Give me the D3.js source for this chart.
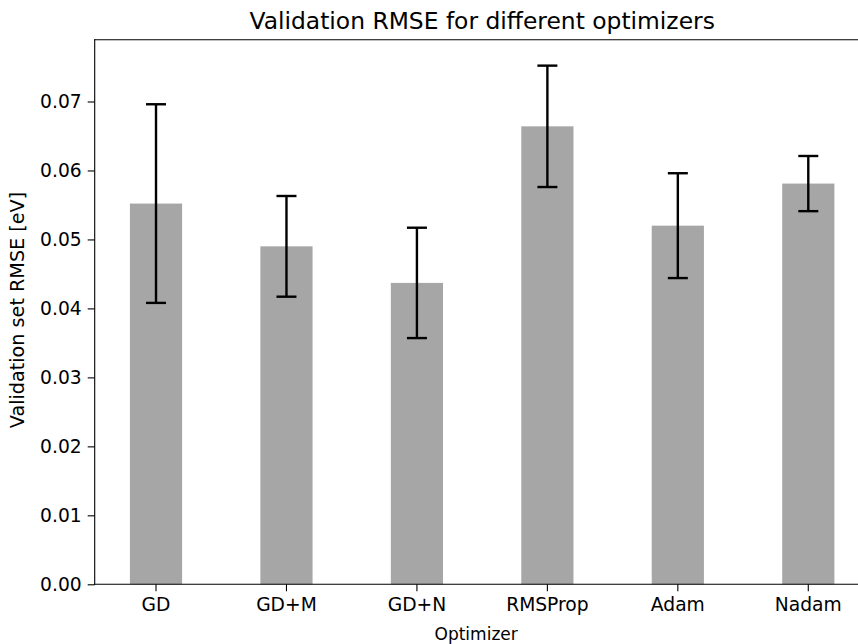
<html>
<head>
  <title>Validation RMSE</title>
  <style>
  body {
    margin: 0;
    background: #fff;
  }
  svg text {
    font-family: "DejaVu Sans", sans-serif;
    fill: #000;
  }
  .axis path,
  .axis line {
    stroke: #000;
    stroke-width: 1.1;
  }
  </style>
</head>
<body>
  <div id="chart"></div>

  <script src="https://d3js.org/d3.v7.min.js"></script>
  <script>
  // optimizers and their validation RMSE (mean, std over runs)
  var optimizers = ["GD", "GD+M", "GD+N", "RMSProp", "Adam", "Nadam"];
  var rmse = [0.0552, 0.0490, 0.0437, 0.0664, 0.0520, 0.0581];
  var rmseStd = [0.0144, 0.0073, 0.0080, 0.0088, 0.0076, 0.0040];
  var yTicks = [0.00, 0.01, 0.02, 0.03, 0.04, 0.05, 0.06, 0.07];

  var W = 858, H = 644;
  var margin = {left: 94.7, right: 869.6, top: 39.7, bottom: 584.3};

  var svg = d3.select("#chart").append("svg")
    .attr("width", W)
    .attr("height", H);

  var x = d3.scaleBand()
    .domain(optimizers)
    .range([margin.left, margin.right])
    .paddingInner(0.6)
    .paddingOuter(0.27);

  // headroom above the tallest error bar
  var yMax = d3.max(rmse.map(function(d, i){ return d + rmseStd[i]; })) * 1.05;
  var y = d3.scaleLinear().domain([0, yMax]).range([margin.bottom, margin.top]);

  var data = optimizers.map(function(name, i){
    return {name: name, v: rmse[i], e: rmseStd[i]};
  });

  // bars
  svg.selectAll(".bar")
      .data(data)
    .enter().append("rect")
      .attr("class", "bar")
      .attr("x", function(d){ return x(d.name); })
      .attr("width", x.bandwidth())
      .attr("y", function(d){ return y(d.v); })
      .attr("height", function(d){ return y(0) - y(d.v); })
      .style("fill", "#a6a6a6");

  // error bars
  var cap = 10;
  var err = svg.selectAll(".err")
      .data(data)
    .enter().append("g")
      .attr("class", "err")
      .attr("stroke", "#000")
      .attr("stroke-width", 2.4);
  err.append("line")
      .attr("x1", function(d){ return x(d.name) + x.bandwidth() / 2; })
      .attr("x2", function(d){ return x(d.name) + x.bandwidth() / 2; })
      .attr("y1", function(d){ return y(d.v - d.e); })
      .attr("y2", function(d){ return y(d.v + d.e); });
  err.selectAll(".cap")
      .data(function(d){ return [d.v - d.e, d.v + d.e].map(function(v){ return {name: d.name, v: v}; }); })
    .enter().append("line")
      .attr("class", "cap")
      .attr("x1", function(d){ return x(d.name) + x.bandwidth() / 2 - cap; })
      .attr("x2", function(d){ return x(d.name) + x.bandwidth() / 2 + cap; })
      .attr("y1", function(d){ return y(d.v); })
      .attr("y2", function(d){ return y(d.v); });

  // axes
  var xAxis = svg.append("g")
      .attr("class", "axis")
      .attr("transform", "translate(0," + margin.bottom + ")")
      .call(d3.axisBottom(x).tickSize(7).tickPadding(6).tickSizeOuter(0));
  xAxis.select(".domain").remove();
  xAxis.selectAll("text").style("font-size", "18.7px");

  var yAxis = svg.append("g")
      .attr("class", "axis")
      .attr("transform", "translate(" + margin.left + ",0)")
      .call(d3.axisLeft(y).tickValues(yTicks).tickFormat(d3.format(".2f")).tickSize(7).tickPadding(6).tickSizeOuter(0));
  yAxis.select(".domain").remove();
  yAxis.selectAll("text").style("font-size", "18.7px");

  // spines (right one falls outside the page)
  var spines = [
    [margin.left, margin.top, margin.right, margin.top],
    [margin.left, margin.bottom, margin.right, margin.bottom],
    [margin.left, margin.top, margin.left, margin.bottom]
  ];
  svg.selectAll(".spine")
      .data(spines)
    .enter().append("line")
      .attr("class", "spine")
      .attr("x1", function(d){ return d[0]; })
      .attr("y1", function(d){ return d[1]; })
      .attr("x2", function(d){ return d[2]; })
      .attr("y2", function(d){ return d[3]; })
      .attr("stroke", "#000")
      .attr("stroke-width", 1.1)
      .attr("stroke-linecap", "square");

  // title and axis labels
  svg.append("text")
      .attr("x", (margin.left + margin.right) / 2)
      .attr("y", 29)
      .attr("text-anchor", "middle")
      .style("font-size", "23.4px")
      .text("Validation RMSE for different optimizers");

  svg.append("text")
      .attr("x", (margin.left + margin.right) / 2 - 6)
      .attr("y", 639.5)
      .attr("text-anchor", "middle")
      .style("font-size", "17px")
      .text("Optimizer");

  svg.append("text")
      .attr("transform", "translate(24," + 310 + ") rotate(-90)")
      .attr("text-anchor", "middle")
      .style("font-size", "19.2px")
      .text("Validation set RMSE [eV]");
  </script>
</body>
</html>
